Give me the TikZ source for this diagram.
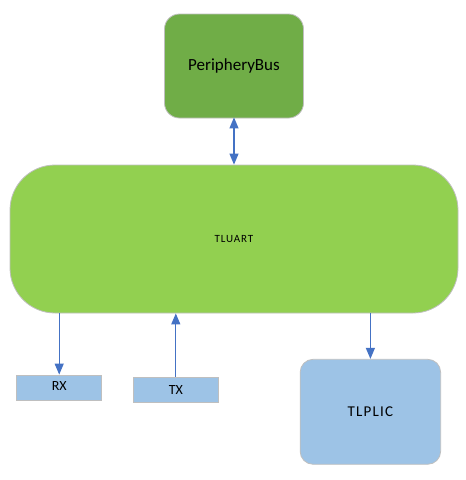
\documentclass[tikz,border=0pt]{standalone}
\usepackage{fontspec}
\setmainfont{Carlito}
\usetikzlibrary{arrows.meta}
\definecolor{busgreen}{HTML}{70AD47}
\definecolor{uartgreen}{HTML}{92D050}
\definecolor{lblue}{HTML}{9DC3E6}
\definecolor{edgegray}{HTML}{BFBFBF}
\definecolor{arrblue}{HTML}{4472C4}
\tikzset{
  box/.style={draw=edgegray, line width=0.8pt, inner sep=0pt, text=black},
  tip/.tip={Triangle[length=11pt,width=9pt]},
  conn/.style={draw=arrblue, line width=1.2pt, -tip},
  dconn/.style={draw=arrblue, line width=1.2pt, tip-tip}
}
\begin{document}
\begin{tikzpicture}[x=1pt,y=-1pt]
\useasboundingbox (0,0) rectangle (466,480);
\node[box, fill=busgreen, rounded corners=15pt, minimum width=139pt, minimum height=104pt, font=\fontsize{17}{20}\selectfont] (bus) at (234,66) {PeripheryBus};
\node[box, fill=uartgreen, rounded corners=45pt, minimum width=448pt, minimum height=148pt, font=\fontsize{11}{13}\selectfont\addfontfeature{LetterSpace=8}] (uart) at (234,239) {TLUART};
\node[box, fill=lblue, minimum width=85pt, minimum height=25pt, font=\fontsize{14}{16}\selectfont] (rx) at (59.2,387.5) {\raisebox{3pt}{RX}};
\node[box, fill=lblue, minimum width=85pt, minimum height=25pt, font=\fontsize{14}{16}\selectfont] (tx) at (175.8,389.8) {TX};
\node[box, fill=lblue, rounded corners=13pt, minimum width=140.5pt, minimum height=105pt, font=\fontsize{15}{17}\selectfont\addfontfeature{LetterSpace=8}] (plic) at (370.4,411.8) {TLPLIC};
\draw[dconn] ([yshift=1pt]bus.south) -- (uart.north);
\draw[conn] (uart.south -| rx.north) -- (rx.north);
\draw[conn] (tx.north) -- (uart.south -| tx.north);
\draw[conn] (uart.south -| plic.north) -- (plic.north);
\end{tikzpicture}
\end{document}
